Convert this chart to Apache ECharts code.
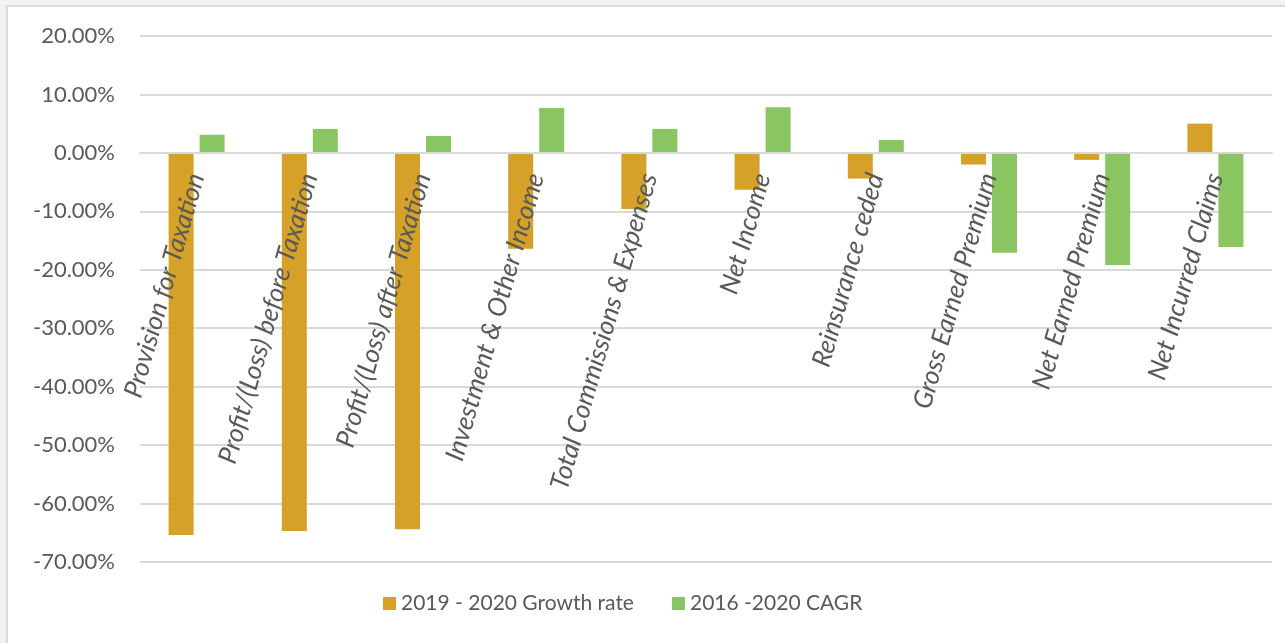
<!DOCTYPE html>
<html>
<head>
<meta charset="utf-8">
<script src="https://cdn.jsdelivr.net/npm/echarts@6/dist/echarts.min.js"></script>
<style>
  html, body { margin: 0; padding: 0; background: #f2f2f2; }
  #chart { width: 1285px; height: 643px; }
</style>
</head>
<body>
<div id="chart"></div>
<script>
// Insurance key indicators: year-on-year growth vs. multi-year CAGR (in %)
const categories = [
  'Provision for Taxation',
  'Profit/(Loss) before Taxation',
  'Profit/(Loss) after Taxation',
  'Investment & Other Income',
  'Total Commissions & Expenses',
  'Net Income',
  'Reinsurance ceded',
  'Gross Earned Premium',
  'Net Earned Premium',
  'Net Incurred Claims'
];
const growth2019_2020 = [-65.4, -64.7, -64.4, -16.4, -9.6, -6.3, -4.4, -2.0, -1.2, 5.0];
const cagr2016_2020   = [3.1, 4.1, 2.9, 7.7, 4.1, 7.8, 2.2, -17.1, -19.2, -16.1];
const seriesNames = ['2019 - 2020 Growth rate', '2016 -2020 CAGR'];
const yTicks = { min: -70, max: 20, step: 10 };

const textColor = '#595959';
const gridColor = '#d9d9d9';
const fontFamily = 'Lato, "Open Sans", sans-serif';

const gridTop = 36, gridBottom = 81, chartHeight = 643;
const plotHeight = chartHeight - gridTop - gridBottom;
// distance from the top edge of the plot down to the 0 % line
const zeroOffset = plotHeight * yTicks.max / (yTicks.max - yTicks.min);

const chart = echarts.init(document.getElementById('chart'), null, { renderer: 'canvas' });
chart.setOption({
  backgroundColor: '#f2f2f2',
  animation: false,
  graphic: [{
    type: 'rect',
    z: -10,
    shape: { x: 7, y: 6, width: 1290, height: 650 },
    style: { fill: '#ffffff', stroke: gridColor, lineWidth: 2 }
  }],
  color: ['#d5a128', '#89c661'],
  grid: { left: 140, right: 13, top: gridTop, bottom: gridBottom, containLabel: false, outerBoundsMode: 'none' },
  legend: {
    bottom: 24,
    left: 378,
    itemWidth: 13,
    itemHeight: 13,
    itemGap: 38,
    icon: 'rect',
    textStyle: { color: textColor, fontSize: 21, fontFamily: fontFamily },
    data: seriesNames
  },
  xAxis: {
    type: 'category',
    data: categories,
    position: 'top',
    offset: -zeroOffset,
    z: 10,
    axisLine: { show: true, onZero: false, lineStyle: { color: gridColor, width: 2 } },
    axisTick: { show: false },
    axisLabel: {
      inside: true,
      interval: 0,
      rotate: -74,
      margin: 21,
      color: textColor,
      fontSize: 26,
      fontStyle: 'italic',
      fontFamily: fontFamily
    }
  },
  yAxis: {
    type: 'value',
    min: yTicks.min,
    max: yTicks.max,
    interval: yTicks.step,
    axisLine: { show: false },
    axisTick: { show: false },
    splitLine: { lineStyle: { color: gridColor, width: 2 } },
    axisLabel: {
      margin: 25,
      color: textColor,
      fontSize: 22,
      fontFamily: fontFamily,
      formatter: v => v.toFixed(2) + '%'
    }
  },
  series: [
    { name: seriesNames[0], type: 'bar', data: growth2019_2020, barWidth: 25, barGap: '24%' },
    { name: seriesNames[1], type: 'bar', data: cagr2016_2020, barWidth: 25, barGap: '24%' }
  ]
});
</script>
</body>
</html>
